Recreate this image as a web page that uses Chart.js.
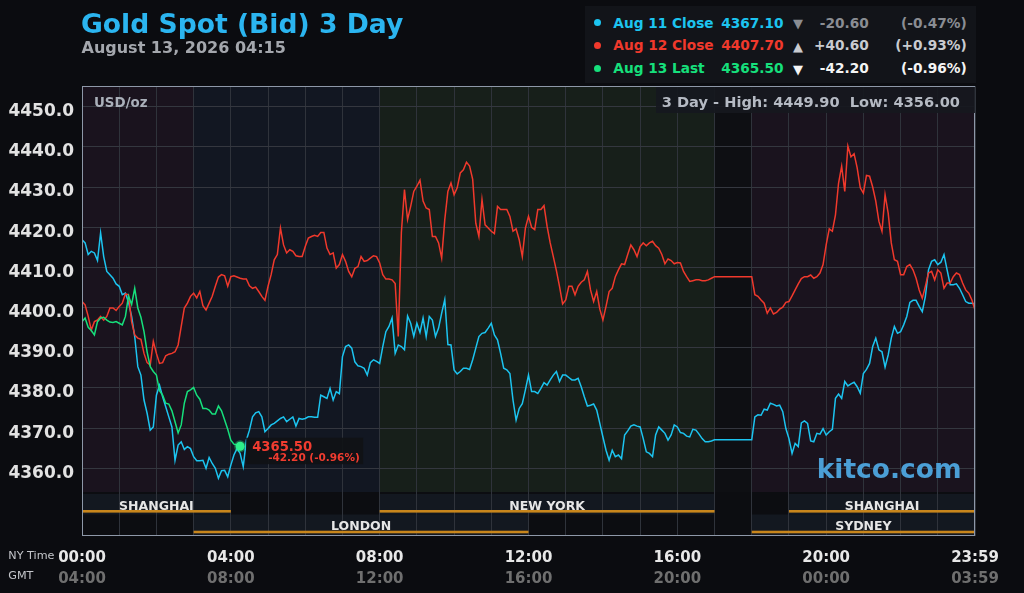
<!DOCTYPE html>
<html>
<head>
<meta charset="utf-8">
<title>Gold Spot (Bid) 3 Day</title>
<script src="https://cdn.jsdelivr.net/npm/chart.js@4.4.1/dist/chart.umd.min.js"></script>
<style>
  html, body { margin: 0; padding: 0; background: #0b0c10; }
  #wrap { position: relative; width: 1024px; height: 593px; overflow: hidden; font-family: 'DejaVu Sans', sans-serif; }
  #wrap canvas { position: absolute; left: 0; top: 0; }
  .t { position: absolute; white-space: pre; font-weight: bold; line-height: 1; }
  .box { position: absolute; }
</style>
</head>
<body>
<div id="wrap">
  <canvas id="goldChart" width="1024" height="593"></canvas>
</div>
<script>
/* =================================================================
   GOLD SPOT 3 DAY - ceny co 5 minut (czas NY), sesje rynkowe w tle
   ================================================================= */

const stepMinutes = 5;

// Aug 11 (cyan) - 00:00 .. 24:00, przerwa 17:00-18:00
const aug11Close = [
  4416.9, 4416.1, 4413.2, 4414.0, 4413.6, 4411.7, 4418.6, 4412.7, 4409.0, 4408.2,
  4407.3, 4405.9, 4405.3, 4403.2, 4403.6, 4401.3, 4397.8, 4392.8, 4385.3, 4383.2,
  4377.0, 4373.7, 4369.5, 4370.3, 4378.2, 4380.7, 4377.8, 4375.3, 4372.8, 4370.3,
  4362.0, 4365.8, 4366.6, 4364.7, 4365.4, 4364.9, 4362.9, 4361.9, 4361.9, 4362.0,
  4360.0, 4362.7, 4361.2, 4360.0, 4357.5, 4359.4, 4359.5, 4357.9, 4360.8, 4363.3,
  4364.9, 4363.7, 4360.4, 4367.0, 4369.5, 4372.8, 4373.8, 4374.1, 4372.8, 4369.1,
  4369.9, 4370.8, 4371.2, 4371.8, 4372.4, 4372.8, 4371.6, 4372.2, 4372.8, 4370.5,
  4372.4, 4372.2, 4372.4, 4372.8, 4372.8, 4372.7, 4372.7, 4378.2, 4377.8, 4377.4,
  4379.9, 4377.0, 4379.1, 4378.6, 4387.8, 4390.3, 4390.7, 4389.9, 4386.5, 4385.5,
  4385.3, 4384.9, 4383.2, 4386.3, 4387.0, 4386.6, 4386.1, 4390.3, 4394.0, 4395.3,
  4397.4, 4388.6, 4390.7, 4390.3, 4389.5, 4397.9, 4396.1, 4392.8, 4396.1, 4393.8,
  4397.4, 4392.8, 4397.8, 4396.9, 4392.8, 4394.9, 4398.6, 4402.0, 4390.8, 4390.7,
  4384.5, 4383.5, 4384.1, 4384.9, 4384.9, 4384.6, 4387.0, 4389.9, 4392.8, 4393.6,
  4393.8, 4394.9, 4396.1, 4393.2, 4392.0, 4388.6, 4384.9, 4384.5, 4383.6, 4377.0,
  4372.0, 4374.9, 4376.1, 4379.5, 4383.2, 4379.1, 4379.1, 4378.6, 4379.9, 4381.3,
  4380.7, 4382.0, 4383.2, 4384.1, 4381.6, 4383.2, 4383.2, 4382.6, 4382.0, 4382.0,
  4382.4, 4380.3, 4377.8, 4375.5, 4375.7, 4376.0, 4374.5, 4371.2, 4367.8, 4364.5,
  4362.0, 4364.5, 4362.9, 4363.3, 4362.4, 4368.3, 4369.3, 4370.5, 4370.8, 4370.5,
  4370.3, 4367.4, 4364.1, 4363.7, 4362.9, 4368.3, 4370.3, 4369.5, 4368.7, 4367.0,
  4368.3, 4370.8, 4370.3, 4368.9, 4368.7, 4368.0, 4367.8, 4369.7, 4369.5, 4368.5,
  4367.4, 4366.6, 4366.6, 4366.8, 4367.1, null, null, null, null, null,
  null, null, null, null, null, null, 4367.1, 4372.8, 4373.3, 4373.2,
  4374.7, 4374.5, 4376.2, 4375.9, 4375.5, 4375.7, 4374.1, 4369.9, 4367.4, 4363.7,
  4366.2, 4365.4, 4371.3, 4371.8, 4371.2, 4366.8, 4366.6, 4368.7, 4368.5, 4369.9,
  4368.3, 4369.1, 4369.7, 4377.4, 4378.5, 4377.4, 4381.6, 4380.5, 4381.0, 4381.4,
  4380.3, 4378.7, 4383.6, 4384.6, 4386.1, 4390.3, 4392.4, 4389.5, 4389.0, 4385.2,
  4388.2, 4392.4, 4395.3, 4393.6, 4394.0, 4395.7, 4397.8, 4401.3, 4401.8, 4401.8,
  4400.3, 4399.0, 4402.8, 4409.4, 4411.5, 4411.9, 4410.7, 4411.3, 4413.2, 4409.4,
  4405.7, 4405.7, 4405.9, 4404.8, 4403.2, 4401.5, 4401.1, 4401.1, 4400.9
];

// Aug 12 (czerwony)
const aug12Close = [
  4401.5, 4400.7, 4397.8, 4394.4, 4396.5, 4396.9, 4397.8, 4396.9, 4397.8, 4399.9,
  4399.9, 4399.3, 4400.3, 4401.1, 4403.4, 4403.2, 4396.5, 4393.2, 4392.4, 4392.1,
  4388.6, 4386.3, 4385.7, 4391.6, 4388.6, 4386.1, 4386.3, 4388.0, 4388.4, 4388.6,
  4389.0, 4390.7, 4395.3, 4399.9, 4401.1, 4402.8, 4403.6, 4402.4, 4404.0, 4400.5,
  4399.4, 4401.1, 4402.8, 4405.3, 4407.6, 4408.2, 4407.9, 4405.3, 4407.7, 4407.9,
  4407.6, 4407.3, 4407.1, 4407.1, 4405.4, 4404.8, 4405.1, 4404.0, 4402.8, 4401.8,
  4405.3, 4408.2, 4411.9, 4413.2, 4419.8, 4415.6, 4413.6, 4414.4, 4414.0, 4412.9,
  4412.7, 4412.7, 4415.2, 4417.3, 4417.7, 4418.0, 4417.7, 4418.7, 4418.7, 4414.8,
  4413.2, 4413.6, 4409.8, 4410.7, 4413.2, 4411.5, 4409.0, 4407.7, 4409.8, 4410.2,
  4412.7, 4411.5, 4411.7, 4412.3, 4412.9, 4412.7, 4411.1, 4408.2, 4407.1, 4407.1,
  4406.9, 4406.0, 4392.8, 4418.7, 4429.4, 4421.9, 4425.2, 4428.9, 4430.2, 4431.7,
  4426.5, 4424.8, 4424.4, 4417.7, 4417.7, 4416.1, 4412.3, 4421.9, 4428.9, 4431.0,
  4428.1, 4429.8, 4433.5, 4434.3, 4436.2, 4435.2, 4431.9, 4421.0, 4417.7, 4426.9,
  4420.6, 4419.8, 4419.0, 4418.4, 4425.2, 4424.4, 4424.4, 4424.4, 4422.7, 4419.0,
  4419.6, 4416.9, 4412.7, 4419.8, 4422.7, 4420.0, 4419.4, 4424.4, 4424.4, 4425.4,
  4420.2, 4416.1, 4412.7, 4409.2, 4405.3, 4400.9, 4401.9, 4405.3, 4405.3, 4403.2,
  4405.3, 4406.3, 4406.9, 4409.0, 4404.4, 4401.5, 4404.0, 4399.6, 4396.9, 4400.3,
  4404.0, 4404.8, 4407.7, 4409.4, 4410.9, 4410.7, 4413.2, 4415.6, 4414.4, 4412.7,
  4415.2, 4416.1, 4415.4, 4416.1, 4416.5, 4415.4, 4414.8, 4413.2, 4410.9, 4412.1,
  4411.7, 4410.9, 4411.2, 4411.1, 4409.0, 4407.7, 4406.5, 4406.7, 4406.9, 4406.9,
  4406.7, 4406.7, 4406.9, 4407.3, 4407.7, null, null, null, null, null,
  null, null, null, null, null, null, 4407.7, 4403.2, 4402.8, 4401.9,
  4401.1, 4398.6, 4399.9, 4398.4, 4398.8, 4399.6, 4400.1, 4401.3, 4401.5, 4402.9,
  4404.4, 4405.9, 4407.2, 4407.7, 4407.7, 4408.1, 4407.3, 4407.7, 4408.6, 4410.7,
  4415.6, 4419.6, 4419.0, 4423.1, 4431.0, 4435.2, 4428.9, 4440.2, 4437.5, 4438.3,
  4434.8, 4429.8, 4428.5, 4432.9, 4432.7, 4430.0, 4426.5, 4421.5, 4419.0, 4428.1,
  4423.5, 4416.1, 4411.9, 4411.5, 4408.2, 4408.2, 4410.2, 4410.7, 4409.4, 4407.3,
  4404.4, 4402.3, 4405.3, 4408.6, 4409.0, 4406.9, 4409.4, 4408.6, 4404.8, 4406.1,
  4406.1, 4407.7, 4408.6, 4408.2, 4406.1, 4404.4, 4403.6, 4401.9, 4399.4
];

// Aug 13 (zielony) - 00:00 .. 04:15
const aug13Last = [
  4396.5, 4397.4, 4395.1, 4394.3, 4393.2, 4396.5, 4397.4, 4397.6, 4396.9, 4396.4,
  4396.3, 4396.5, 4396.1, 4395.7, 4397.8, 4402.9, 4400.8, 4404.8, 4399.9, 4397.6,
  4394.0, 4389.0, 4385.3, 4384.1, 4383.2, 4379.3, 4378.2, 4376.2, 4376.0, 4374.3,
  4371.6, 4368.8, 4370.8, 4376.2, 4379.1, 4379.5, 4380.1, 4378.2, 4377.2, 4374.9,
  4374.9, 4374.5, 4373.5, 4373.5, 4375.5, 4374.3, 4372.0, 4369.7, 4367.0, 4366.0,
  4365.8, 4365.5
];
const lastMinute = 255;
const lastPrice = 4365.50;
const lastChange = '-42.20';
const lastPercent = '(-0.96%)';

const yTickValues = [4360, 4370, 4380, 4390, 4400, 4410, 4420, 4430, 4440, 4450];
const labelMinutes = [0, 240, 480, 720, 960, 1200, 1440];
const nyTimeLabels = ['00:00', '04:00', '08:00', '12:00', '16:00', '20:00', '23:59'];
const gmtTimeLabels = ['04:00', '08:00', '12:00', '16:00', '20:00', '00:00', '03:59'];

// tło wykresu wg pory dnia
const zoneStart = [0, 180, 480, 1020, 1080];
const zoneEnd   = [180, 480, 1020, 1080, 1440];
const zoneColor = ['#1a131e', '#121722', '#171f1a', '#0e0f13', '#1a131e'];

// sesje giełdowe (pasy pod wykresem)
const sessionNames = ['SHANGHAI', 'LONDON', 'NEW YORK', 'SYDNEY', 'SHANGHAI'];
const sessionStart = [0, 180, 480, 1080, 1140];
const sessionEnd   = [240, 720, 1020, 1440, 1440];
const sessionRow   = [0, 1, 0, 1, 0];

// legenda
const legendLabels   = ['Aug 11 Close', 'Aug 12 Close', 'Aug 13 Last'];
const legendValues   = ['4367.10', '4407.70', '4365.50'];
const legendArrows   = ['\u25BC', '\u25B2', '\u25BC'];
const legendChanges  = ['-20.60', '+40.60', '-42.20'];
const legendPercents = ['(-0.47%)', '(+0.93%)', '(-0.96%)'];
const seriesColors   = ['#1cc4f0', '#f0392c', '#16e07c'];
const changeColors   = ['#8a8d93', '#c9cbd0', '#f4f4f4'];

const gridMinutes = Array.from({ length: 25 }, (_, i) => i * 60);

const toPoints = arr => arr.map((v, i) => ({ x: i * stepMinutes, y: v }));
const cyanPoints = toPoints(aug11Close);
const redPoints = toPoints(aug12Close);
const greenPoints = toPoints(aug13Last);

/* ---------- teksty HTML ---------- */
const wrap = document.getElementById('wrap');

function addBox(left, top, width, height, color) {
    const el = document.createElement('div');
    el.className = 'box';
    Object.assign(el.style, { left: left + 'px', top: top + 'px', width: width + 'px', height: height + 'px', background: color });
    wrap.appendChild(el);
    return el;
}

function addText(txt, x, baseline, size, color, align, weight) {
    const el = document.createElement('div');
    el.className = 't';
    el.textContent = txt;
    el.style.fontSize = size + 'px';
    el.style.top = (baseline - 0.846 * size) + 'px';
    el.style.color = color;
    if (align === 'right') el.style.right = (1024 - x) + 'px';
    else el.style.left = x + 'px';
    if (weight) el.style.fontWeight = weight;
    wrap.appendChild(el);
    return el;
}

addText('Gold Spot (Bid) 3 Day', 81, 33.3, 26.6, '#2bb5f0');
addText('August 13, 2026 04:15', 81.5, 54, 16, '#a4a7ad');

addBox(585, 6, 391, 77, '#121419');
legendLabels.forEach((lab, i) => {
    const base = 28.3 + i * 22.7;
    const dot = addBox(594.2, base - 9.1, 7, 7, seriesColors[i]);
    dot.style.borderRadius = '50%';
    addText(lab, 613.3, base, 13.7, seriesColors[i]);
    addText(legendValues[i], 783.5, base, 13.7, seriesColors[i], 'right');
    addText(legendArrows[i], 793, base, 13, changeColors[i]);
    addText(legendChanges[i], 868.7, base, 13.7, changeColors[i], 'right');
    addText(legendPercents[i], 966.7, base, 13.7, changeColors[i], 'right');
});

addText('NY Time', 8.3, 559.3, 11.2, '#c4c6ca', null, 'normal');
addText('GMT', 8.3, 579.3, 11.2, '#c4c6ca', null, 'normal');

/* ---------- plugin: tło, sesje, etykieta ostatniej ceny ---------- */
const sessionPlugin = {
    id: 'sessions',
    beforeDraw(chart) {
        const { ctx, chartArea: a } = chart;
        const x = chart.scales.x;
        const dataBottom = a.bottom - 44;
        ctx.save();
        zoneStart.forEach((s, i) => {
            const x0 = x.getPixelForValue(s);
            const x1 = x.getPixelForValue(zoneEnd[i]);
            ctx.fillStyle = zoneColor[i];
            ctx.fillRect(x0, a.top, x1 - x0, dataBottom - a.top);
        });
        ctx.fillStyle = '#0c0d11';
        ctx.fillRect(a.left, dataBottom, a.width, a.bottom - dataBottom);
        sessionNames.forEach((n, i) => {
            const x0 = x.getPixelForValue(sessionStart[i]);
            const x1 = x.getPixelForValue(sessionEnd[i]);
            const top = sessionRow[i] ? a.bottom - 21.5 : a.bottom - 42;
            ctx.fillStyle = '#131820';
            ctx.fillRect(x0, top, x1 - x0, sessionRow[i] ? 21.5 : 20.5);
        });
        ctx.restore();
    },
    afterDraw(chart) {
        const { ctx, chartArea: a } = chart;
        const x = chart.scales.x;
        const y = chart.scales.y;
        ctx.save();
        // pasy sesji
        sessionNames.forEach((n, i) => {
            const x0 = x.getPixelForValue(sessionStart[i]);
            const x1 = x.getPixelForValue(sessionEnd[i]);
            const lineY = sessionRow[i] ? a.bottom - 5.3 : a.bottom - 26;
            ctx.fillStyle = '#c8861c';
            ctx.fillRect(x0, lineY, x1 - x0, 2.6);
            ctx.fillStyle = '#e6e6e6';
            ctx.font = 'bold 12.5px "DejaVu Sans"';
            ctx.textAlign = 'center';
            ctx.textBaseline = 'alphabetic';
            ctx.fillText(n, (x0 + x1) / 2, lineY - 0.5);
        });
        // ramka
        ctx.strokeStyle = '#8e98a8';
        ctx.lineWidth = 1;
        ctx.strokeRect(a.left + 0.5, a.top + 0.5, a.width - 1, a.height - 1);
        // etykieta ostatniej ceny
        const px = x.getPixelForValue(lastMinute);
        const py = y.getPixelForValue(lastPrice);
        ctx.fillStyle = 'rgba(16,18,22,0.92)';
        ctx.fillRect(px + 6, py - 8.5, 117, 26.5);
        ctx.fillStyle = '#f03c30';
        ctx.textAlign = 'left';
        ctx.font = 'bold 13.2px "DejaVu Sans"';
        ctx.fillText(lastPrice.toFixed(2), px + 12, py + 5.2);
        ctx.font = 'bold 10.5px "DejaVu Sans"';
        ctx.fillText(lastChange + ' ' + lastPercent, px + 28, py + 15.2);
        ctx.restore();
    }
};

Chart.defaults.font.family = '"DejaVu Sans", sans-serif';

const ctx = document.getElementById('goldChart').getContext('2d');
const lastIdx = greenPoints.length - 1;

new Chart(ctx, {
    type: 'line',
    data: {
        datasets: [
            {
                label: 'Aug 13 Last',
                data: greenPoints,
                borderColor: '#16e07c',
                borderWidth: 1.5,
                order: 0,
                pointRadius: c => (c.dataIndex === lastIdx ? 4.5 : 0),
                pointBackgroundColor: '#2ef08a',
                pointBorderColor: 'rgba(46,240,138,0.35)',
                pointBorderWidth: 3
            },
            {
                label: 'Aug 12 Close',
                data: redPoints,
                borderColor: '#f0392c',
                borderWidth: 1.5,
                pointRadius: 0,
                spanGaps: true,
                order: 1
            },
            {
                label: 'Aug 11 Close',
                data: cyanPoints,
                borderColor: '#1cc4f0',
                borderWidth: 1.5,
                pointRadius: 0,
                spanGaps: true,
                order: 2
            }
        ]
    },
    options: {
        responsive: false,
        animation: false,
        layout: { padding: { top: 86, right: 49, left: 0, bottom: 0 } },
        plugins: {
            legend: { display: false },
            title: { display: false },
            tooltip: { enabled: false }
        },
        elements: { line: { tension: 0 } },
        scales: {
            x: {
                type: 'linear',
                position: 'bottom',
                weight: 0,
                min: 0,
                max: 1440,
                afterBuildTicks: s => { s.ticks = gridMinutes.map(v => ({ value: v })); },
                afterFit: s => { s.height = 31; },
                grid: { color: '#2f333b', drawTicks: false },
                border: { display: false },
                ticks: {
                    autoSkip: false,
                    maxRotation: 0,
                    padding: 13,
                    color: '#e8e8e8',
                    font: { size: 15, weight: 'bold' },
                    callback: v => {
                        const i = labelMinutes.indexOf(v);
                        return i < 0 ? '' : nyTimeLabels[i];
                    }
                }
            },
            xGmt: {
                type: 'linear',
                position: 'bottom',
                weight: 1,
                min: 0,
                max: 1440,
                afterBuildTicks: s => { s.ticks = labelMinutes.map(v => ({ value: v })); },
                afterFit: s => { s.height = 26; },
                grid: { display: false, drawTicks: false },
                border: { display: false },
                ticks: {
                    autoSkip: false,
                    maxRotation: 0,
                    padding: 3,
                    color: '#6f6f6f',
                    font: { size: 15, weight: 'bold' },
                    callback: v => gmtTimeLabels[labelMinutes.indexOf(v)]
                }
            },
            y: {
                type: 'linear',
                min: 4343.15,
                max: 4455.15,
                afterBuildTicks: s => { s.ticks = yTickValues.map(v => ({ value: v })); },
                afterFit: s => { s.width = 82; },
                grid: { color: '#34373f', drawTicks: false },
                border: { display: false },
                ticks: {
                    padding: 8,
                    labelOffset: 5,
                    color: '#e2e2e2',
                    font: { size: 17, weight: 'bold' },
                    callback: v => v.toFixed(1)
                }
            }
        }
    },
    plugins: [sessionPlugin]
});

/* ---------- teksty na wykresie ---------- */
addText('USD/oz', 94, 107.3, 13.4, '#aab0ba');
addBox(656, 87, 319, 26, 'rgba(22,24,30,0.92)');
addText('3 Day - High: 4449.90  Low: 4356.00', 661.7, 107.3, 14.6, '#b5bac3');
addText('kitco.com', 816.7, 478.3, 26.5, '#4b9fd6');
</script>
</body>
</html>
